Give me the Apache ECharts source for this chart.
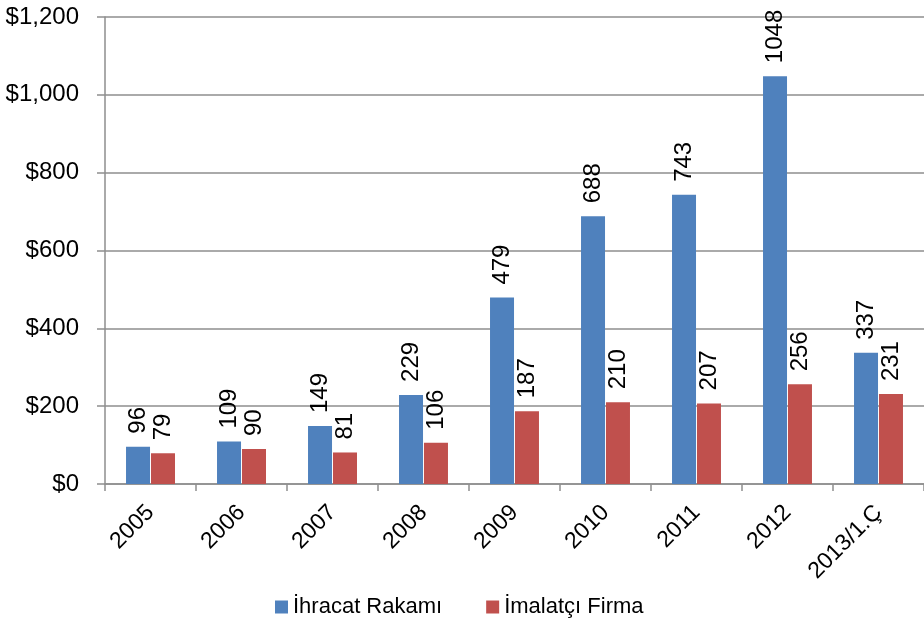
<!DOCTYPE html>
<html>
<head>
<meta charset="utf-8">
<script src="https://cdn.jsdelivr.net/npm/echarts@6/dist/echarts.min.js"></script>
<style>
  html, body { margin: 0; padding: 0; background: #fff; }
  #chart { width: 924px; height: 624px; }
</style>
</head>
<body>
<div id="chart"></div>
<script>
const categories = ['2005', '2006', '2007', '2008', '2009', '2010', '2011', '2012', '2013/1.Ç']
const exportValues = [96, 109, 149, 229, 479, 688, 743, 1048, 337]
const firmValues = [79, 90, 81, 106, 187, 210, 207, 256, 231]
const seriesNames = ['İhracat Rakamı', 'İmalatçı Firma']

const chart = echarts.init(document.getElementById('chart'))
const font = 'Liberation Sans, Arial, sans-serif'
const gridColor = '#8e8e8e'

const barLabel = {
  show: true,
  position: 'top',
  rotate: 90,
  align: 'left',
  verticalAlign: 'middle',
  distance: 13,
  color: '#000',
  fontSize: 24,
  fontFamily: font,
}

chart.setOption({
  backgroundColor: '#fff',
  animation: false,
  grid: { left: 105, top: 17, width: 827, height: 467 },
  legend: {
    bottom: 1,
    left: 270,
    itemWidth: 13,
    itemHeight: 13,
    itemGap: 44,
    icon: 'rect',
    textStyle: { fontSize: 22, fontFamily: font, color: '#000' },
    data: seriesNames,
  },
  xAxis: {
    type: 'category',
    data: categories,
    axisLine: { lineStyle: { color: gridColor, width: 1.5 } },
    axisTick: { show: true, interval: 0, length: 7, lineStyle: { color: gridColor, width: 1.5 } },
    axisLabel: {
      interval: 0,
      rotate: 45,
      margin: 25,
      color: '#000',
      fontSize: 23,
      fontFamily: font,
    },
  },
  yAxis: {
    type: 'value',
    min: 0,
    max: 1200,
    interval: 200,
    axisLine: { show: true, lineStyle: { color: gridColor, width: 1.5 } },
    axisTick: { show: true, length: 8, lineStyle: { color: gridColor, width: 1.5 } },
    splitLine: { lineStyle: { color: gridColor, width: 1.5 } },
    axisLabel: {
      margin: 26,
      color: '#000',
      fontSize: 24,
      fontFamily: font,
      formatter: v => '$' + v.toLocaleString('en-US'),
    },
  },
  series: [
    {
      name: seriesNames[0],
      type: 'bar',
      data: exportValues,
      barWidth: 24,
      barGap: '4%',
      itemStyle: { color: '#4F81BD' },
      label: barLabel,
    },
    {
      name: seriesNames[1],
      type: 'bar',
      data: firmValues,
      barWidth: 24,
      itemStyle: { color: '#C0504D' },
      label: barLabel,
    },
  ],
})
</script>
</body>
</html>
